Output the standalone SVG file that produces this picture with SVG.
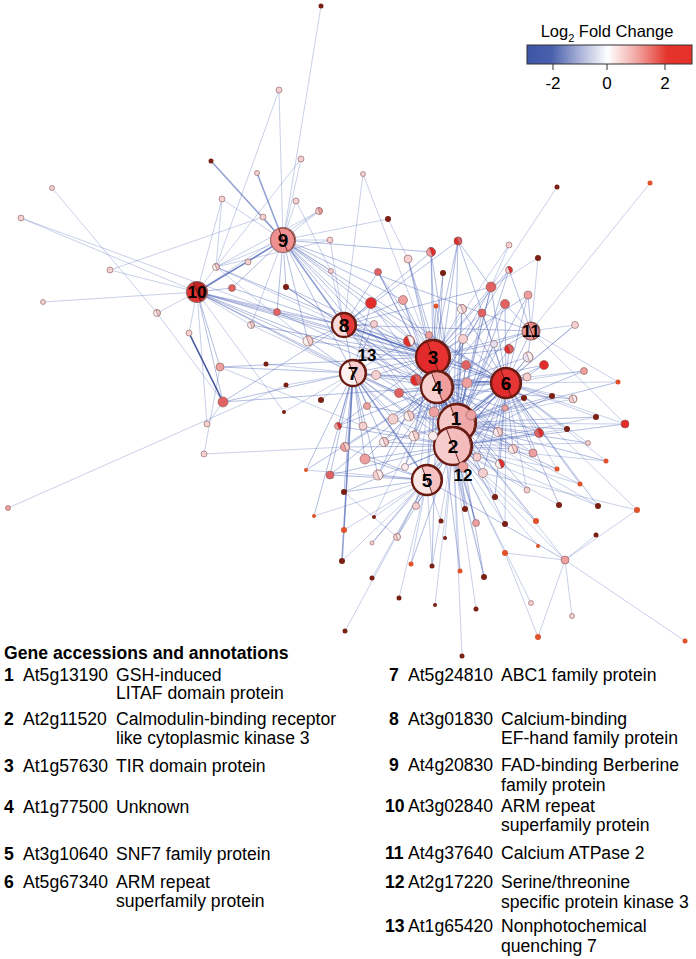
<svg xmlns="http://www.w3.org/2000/svg" xmlns:xlink="http://www.w3.org/1999/xlink" width="696" height="959" viewBox="0 0 696 959">
<style>
text{font-family:"Liberation Sans",Arial,sans-serif;fill:#000}
.eA{fill:none;stroke:#4a62b5;stroke-width:.8;stroke-opacity:.38}
.eB{fill:none;stroke:#4a62b5;stroke-width:1;stroke-opacity:.42}
.eC{fill:none;stroke:#4a62b5;stroke-width:1.6;stroke-opacity:.6}
.eD{fill:none;stroke:#2c3f8e;stroke-width:1.6;stroke-opacity:.9}
.W{fill:#fbeeee}.LP{fill:#f5d0d0}.P{fill:#ee9f9f}.PR{fill:#e06262}.R{fill:#e32b2b}.DR{fill:#7a2014}.O{fill:#e0522a}.LV{fill:#e4e2ee}
#nodes circle,#nodes use{stroke:#8a5a5a;stroke-width:.6}
#nodes .DR,#nodes .O{stroke:none}
#hubs use{stroke:#5a1a10;stroke-width:.9}
#hubs .ring{fill:none;stroke:#6a1c12;stroke-width:2.3}
#hubs .ringT{fill:none;stroke:#9a6a6a;stroke-width:1.2}
.lb{font-weight:bold;font-size:19px;text-anchor:middle}
.lbs{font-weight:bold;font-size:17px;text-anchor:middle}
.tt{font-size:17.6px}
.tb{font-size:17.6px;font-weight:bold}
</style>
<defs>
<path id="hr" vector-effect="non-scaling-stroke" d="M-0.36,-0.93A1,1 0 0 1 0.36,0.93Z"/>
<linearGradient id="lfc" x1="0" x2="1" y1="0" y2="0">
<stop offset="0" stop-color="#3c55a5"/><stop offset=".15" stop-color="#4a60ad"/><stop offset=".32" stop-color="#a9b2d8"/><stop offset=".49" stop-color="#ffffff"/><stop offset=".66" stop-color="#f1a9a5"/><stop offset=".85" stop-color="#e5342c"/><stop offset="1" stop-color="#e5302a"/>
</linearGradient>
</defs>
<rect width="696" height="959" fill="#fff"/>
<g id="connectors">
<path class="eA" d="M321 6L283 240M279 90L283 240M279 90L216 267M301 159L283 240M301 159L216 267M52 188L157 313M222 199L283 240M222 199L197 292M222 199L216 267M296 201L283 240M296 201L331 271M319 211L283 240M319 211L216 267M319 211L197 292M21 218L197 292M21 218L277 312M263 217L283 240M263 217L110 270M330 240L283 240M330 240L216 267M330 240L344 325M248 262L283 240M248 262L197 292M216 267L283 240M216 267L197 292M216 267L344 325M216 267L308 341M110 270L197 292M331 271L283 240M331 271L344 325M43 302L197 292M157 313L197 292M157 313L223 402M251 325L197 292M251 325L283 240M251 325L353 373M207 424L197 292M207 424L223 402M204 454L345 447M204 454L220 367M8 508L286 385M220 367L363 426M189 333L197 292M363 174L344 325M363 174L433 357M388 219L283 240M388 219L408 259M557 187L491 287M650 183L531 331M266 364L353 373M286 385L353 373M321 400L353 373M284 412L197 292M284 412L353 373M306 470L427 480M314 516L427 480M344 530L427 480M342 561L427 480M345 631L427 480M372 578L427 480M399 598L427 480M435 605L453 446M476 609L453 446M462 656L453 446M531 603L453 446M572 616L565 560M538 637L565 560M538 637L505 553M685 641L565 560M596 535L565 560M637 510L565 560M637 510L483 473M637 510L506 383M505 553L565 560M505 553L453 446M606 461L506 383M606 461L453 446M580 484L453 446M580 484L457 423M557 469L453 446M557 469L506 383M618 382L506 383M618 382L531 331M588 443L506 383M588 443L453 446M625 424L506 383M625 424L457 423M625 424L531 331M596 417L506 383M596 417L453 446M575 325L531 331M575 325L506 383M584 371L506 383M584 371L437 387M538 258L491 287M538 258L531 331M509 245L491 287M509 245L433 357M573 399L506 383M573 399L457 423M567 429L506 383M567 429L453 446M598 506L457 423M598 506L453 446M559 505L453 446M536 521L453 446M538 546L453 446M445 538L453 446M441 521L427 480M460 571L453 446M484 577L453 446M484 577L437 387M432 566L427 480M432 566L453 446M411 564L427 480M374 517L427 480M374 517L437 387M372 543L427 480M397 537L427 480M397 537L344 492M527 490L453 446M527 490L506 383M465 509L453 446M465 509L457 423M495 497L453 446M495 497L437 387M476 523L453 446M476 523L433 357M505 524L453 446M505 524L506 383M416 506L427 480M416 506L433 357M565 560L453 446M565 560L457 423"/>
<path class="eB" d="M283 240L197 292M283 240L353 373M283 240L433 357M283 240L437 387M197 292L344 325M197 292L353 373M197 292L433 357M344 325L433 357M344 325L353 373M353 373L433 357M353 373L437 387M457 423L453 446M457 423L433 357M457 423L437 387M453 446L437 387M433 357L437 387M433 357L506 383M437 387L506 383M457 423L506 383M453 446L506 383M427 480L453 446M427 480L437 387M427 480L457 423M427 480L433 357M506 383L531 331M433 357L531 331M531 331L437 387M344 325L437 387M353 373L453 446M353 373L457 423M344 325L457 423M344 325L453 446M283 240L457 423M283 240L453 446M197 292L437 387M197 292L457 423M232 288L197 292M232 288L283 240M277 312L283 240M277 312L197 292M277 312L344 325M277 312L433 357M286 287L283 240M286 287L344 325M286 287L433 357M308 341L283 240M308 341L344 325M308 341L353 373M308 341L197 292M223 402L197 292M223 402L353 373M223 402L344 325M220 367L197 292M220 367L353 373M338 426L353 373M338 426L437 387M338 426L453 446M345 447L353 373M345 447L453 446M345 447L427 480M330 475L353 373M330 475L427 480M330 475L453 446M344 492L427 480M344 492L353 373M306 470L353 373M314 516L353 373M344 530L353 373M458 241L433 357M458 241L491 287M458 241L344 325M458 241L437 387M431 252L344 325M431 252L433 357M431 252L283 240M431 252L437 387M408 259L433 357M408 259L437 387M408 259L457 423M509 270L531 331M509 270L433 357M509 270L453 446M491 287L433 357M491 287L437 387M491 287L506 383M491 287L457 423M491 287L344 325M378 272L344 325M378 272L433 357M378 272L437 387M443 273L433 357M443 273L437 387M371 303L344 325M371 303L433 357M371 303L283 240M371 303L353 373M403 300L433 357M403 300L344 325M403 300L283 240M403 300L437 387M528 295L531 331M528 295L506 383M528 295L433 357M436 306L433 357M436 306L457 423M462 309L433 357M462 309L506 383M462 309L457 423M482 313L433 357M482 313L437 387M482 313L453 446M505 304L506 383M505 304L531 331M505 304L437 387M374 324L344 325M374 324L353 373M374 324L433 357M409 341L433 357M409 341L344 325M409 341L353 373M409 341L457 423M429 335L433 357M429 335L437 387M463 339L433 357M463 339L506 383M463 339L457 423M494 344L531 331M494 344L457 423M509 349L506 383M509 349L433 357M528 357L506 383M528 357L531 331M528 357L453 446M544 365L506 383M544 365L437 387M466 365L433 357M466 365L457 423M466 365L506 383M376 375L353 373M376 375L433 357M376 375L457 423M416 380L433 357M416 380L437 387M416 380L353 373M467 383L437 387M467 383L457 423M467 383L506 383M527 377L506 383M527 377L437 387M524 398L506 383M524 398L457 423M552 396L506 383M552 396L453 446M399 393L353 373M399 393L437 387M399 393L453 446M505 408L506 383M505 408L457 423M367 406L353 373M367 406L457 423M434 412L437 387M434 412L453 446M434 412L433 357M409 416L437 387M409 416L457 423M409 416L353 373M393 419L353 373M393 419L453 446M471 415L457 423M471 415L433 357M363 426L353 373M363 426L453 446M539 433L506 383M539 433L453 446M539 433L457 423M498 432L457 423M498 432L506 383M433 436L457 423M433 436L433 357M414 436L457 423M414 436L437 387M414 436L353 373M384 442L353 373M384 442L453 446M384 442L437 387M513 449L506 383M513 449L453 446M513 449L433 357M533 453L506 383M533 453L457 423M477 457L453 446M477 457L433 357M365 459L353 373M365 459L453 446M365 459L427 480M500 464L453 446M500 464L506 383M500 464L437 387M405 467L453 446M405 467L437 387M378 475L427 480M378 475L353 373M378 475L433 357M483 473L453 446M483 473L506 383M463 467L457 423M463 467L433 357M367 354L353 373M367 354L433 357M367 354L344 325"/>
<path class="eB" d="M371 303L457 423M371 303L506 383M403 300L453 446M378 272L457 423M431 252L457 423M458 241L506 383M458 241L453 446M491 287L453 446M509 270L437 387M528 295L457 423M505 304L453 446M482 313L506 383M462 309L453 446M463 339L453 446M494 344L433 357M494 344L453 446M509 349L457 423M528 357L437 387M544 365L457 423M466 365L453 446M467 383L453 446M527 377L457 423M524 398L453 446M552 396L457 423M505 408L437 387M434 412L506 383M409 416L506 383M393 419L437 387M471 415L506 383M539 433L437 387M498 432L437 387M433 436L506 383M414 436L433 357M384 442L457 423M513 449L437 387M533 453L437 387M477 457L506 383M365 459L437 387M500 464L457 423M405 467L433 357M378 475L437 387M483 473L437 387M463 467L506 383M399 393L506 383M376 375L506 383M416 380L506 383M409 341L506 383M374 324L457 423M429 335L506 383M338 426L433 357M345 447L437 387M330 475L437 387M344 492L453 446M306 470L437 387M223 402L437 387M220 367L433 357M308 341L433 357M277 312L437 387M286 287L437 387M232 288L433 357M251 325L433 357M216 267L433 357M283 240L506 383M197 292L506 383M283 240L531 331M344 325L506 383M344 325L531 331M353 373L506 383M427 480L506 383M565 560L427 480M527 490L437 387M495 497L506 383M476 523L437 387M505 524L437 387M416 506L453 446M465 509L437 387M372 543L453 446M397 537L453 446M411 564L453 446M432 566L437 387M460 571L437 387M484 577L457 423M536 521L457 423M559 505L506 383M598 506L506 383M557 469L457 423M580 484L506 383M606 461L457 423M588 443L457 423M567 429L457 423M596 417L457 423M573 399L437 387M584 371L457 423M575 325L457 423M618 382L457 423M625 424L453 446"/>
<path class="eC" d="M283 240L344 325M211 161L283 240M257 173L283 240M342 561L353 373M197 292L283 240M433 357L453 446M353 373L427 480M437 387L457 423M344 325L433 357M506 383L457 423"/>
<path class="eD" d="M189 333L223 402"/>
</g>
<g id="hubs">
<g id="node1"><circle cx="457" cy="423" r="19" fill="#f6c9c9"/><use xlink:href="#hr" href="#hr" fill="#f0a8a8" transform="translate(457 423) scale(19)"/><circle class="ring" cx="457" cy="423" r="19"/><text class="lb" x="456" y="425">1</text></g>
<g id="node2"><circle cx="453" cy="446" r="19" fill="#f7cccc"/><use xlink:href="#hr" href="#hr" fill="#f4bcbc" transform="translate(453 446) scale(19)"/><circle class="ring" cx="453" cy="446" r="19"/><text class="lb" x="453" y="453">2</text></g>
<g id="node3"><circle cx="433" cy="357" r="17" fill="#e2292b"/><use xlink:href="#hr" href="#hr" fill="#e83232" transform="translate(433 357) scale(17)"/><circle class="ring" cx="433" cy="357" r="17"/><text class="lb" x="433" y="364">3</text></g>
<g id="node4"><circle cx="437" cy="387" r="16" fill="#f7d0d0"/><use xlink:href="#hr" href="#hr" fill="#ef9d9d" transform="translate(437 387) scale(16)"/><circle class="ring" cx="437" cy="387" r="16"/><text class="lb" x="437" y="394">4</text></g>
<g id="node5"><circle cx="427" cy="480" r="15" fill="#fbe6e6"/><use xlink:href="#hr" href="#hr" fill="#f5c1c1" transform="translate(427 480) scale(15)"/><circle class="ring" cx="427" cy="480" r="15"/><text class="lb" x="427" y="487">5</text></g>
<g id="node6"><circle cx="506" cy="383" r="15" fill="#e02c2c"/><use xlink:href="#hr" href="#hr" fill="#e83636" transform="translate(506 383) scale(15)"/><circle class="ring" cx="506" cy="383" r="15"/><text class="lb" x="506" y="390">6</text></g>
<g id="node7"><circle cx="353" cy="373" r="13" fill="#fdf2f2"/><use xlink:href="#hr" href="#hr" fill="#f6cccc" transform="translate(353 373) scale(13)"/><circle class="ring" cx="353" cy="373" r="13"/><text class="lb" x="353" y="380">7</text></g>
<g id="node8"><circle cx="344" cy="325" r="12" fill="#f9dada"/><use xlink:href="#hr" href="#hr" fill="#e53a3a" transform="translate(344 325) scale(12)"/><circle class="ring" cx="344" cy="325" r="12"/><text class="lb" x="344" y="332">8</text></g>
<g id="node9"><circle cx="283" cy="240" r="12.5" fill="#ef9090"/><use xlink:href="#hr" href="#hr" fill="#ef9090" transform="translate(283 240) scale(12.5)"/><circle class="ringT" cx="283" cy="240" r="12.5"/><text class="lb" x="283" y="247">9</text></g>
<g id="node10"><circle cx="197" cy="292" r="10.5" fill="#e53030"/><use xlink:href="#hr" href="#hr" fill="#c42222" transform="translate(197 292) scale(10.5)"/><circle class="ringT" cx="197" cy="292" r="10.5"/><text class="lbs" x="197" y="298">10</text></g>
<g id="node11"><circle cx="531" cy="331" r="9" fill="#e89a9a"/><use xlink:href="#hr" href="#hr" fill="#e48a8a" transform="translate(531 331) scale(9)"/><circle class="ringT" cx="531" cy="331" r="9"/><text class="lbs" x="531" y="337">11</text></g>
</g>
<g id="nodes">
<g id="s1"><circle cx="321" cy="6" r="2.5" class="DR"/></g>
<g id="s2"><circle cx="279" cy="90" r="3" class="LP"/></g>
<g id="s3"><circle cx="301" cy="159" r="3" class="LP"/></g>
<g id="s4"><circle cx="211" cy="161" r="2.5" class="DR"/></g>
<g id="s5"><circle cx="257" cy="173" r="2.5" class="LP"/></g>
<g id="s6"><circle cx="52" cy="188" r="2.5" class="LP"/></g>
<g id="s7"><circle cx="222" cy="199" r="3" class="LP"/></g>
<g id="s8"><circle cx="296" cy="201" r="3" class="LP"/></g>
<g id="s9"><circle cx="319" cy="211" r="3.5" class="LP"/><use xlink:href="#hr" href="#hr" class="P" transform="translate(319 211) scale(3.5)"/></g>
<g id="s10"><circle cx="21" cy="218" r="3" class="LP"/></g>
<g id="s11"><circle cx="263" cy="217" r="3" class="LP"/></g>
<g id="s12"><circle cx="330" cy="240" r="3" class="LP"/></g>
<g id="s13"><circle cx="248" cy="262" r="3" class="LP"/></g>
<g id="s14"><circle cx="216" cy="267" r="3.5" class="W"/><use xlink:href="#hr" href="#hr" class="LP" transform="translate(216 267) scale(3.5)"/></g>
<g id="s15"><circle cx="110" cy="270" r="3" class="LP"/></g>
<g id="s16"><circle cx="331" cy="271" r="2.5" class="LP"/></g>
<g id="s17"><circle cx="286" cy="287" r="3" class="DR"/></g>
<g id="s18"><circle cx="232" cy="288" r="3.5" class="PR"/></g>
<g id="s19"><circle cx="43" cy="302" r="2.5" class="LP"/></g>
<g id="s20"><circle cx="157" cy="313" r="3.5" class="W"/><use xlink:href="#hr" href="#hr" class="LP" transform="translate(157 313) scale(3.5)"/></g>
<g id="s21"><circle cx="277" cy="312" r="3.5" class="PR"/></g>
<g id="s22"><circle cx="251" cy="325" r="3.5" class="W"/><use xlink:href="#hr" href="#hr" class="LP" transform="translate(251 325) scale(3.5)"/></g>
<g id="s23"><circle cx="189" cy="333" r="3" class="LP"/></g>
<g id="s24"><circle cx="308" cy="341" r="5" class="W"/><use xlink:href="#hr" href="#hr" class="LP" transform="translate(308 341) scale(5)"/></g>
<g id="s25"><circle cx="220" cy="367" r="4" class="P"/></g>
<g id="s26"><circle cx="266" cy="364" r="2.5" class="DR"/></g>
<g id="s27"><circle cx="286" cy="385" r="2.5" class="DR"/></g>
<g id="s28"><circle cx="223" cy="402" r="5" class="PR"/></g>
<g id="s29"><circle cx="321" cy="400" r="3" class="DR"/></g>
<g id="s30"><circle cx="284" cy="412" r="2" class="DR"/></g>
<g id="s31"><circle cx="338" cy="426" r="3.5" class="P"/><use xlink:href="#hr" href="#hr" class="R" transform="translate(338 426) scale(3.5)"/></g>
<g id="s32"><circle cx="207" cy="424" r="3" class="LP"/></g>
<g id="s33"><circle cx="345" cy="447" r="4.5" class="P"/><use xlink:href="#hr" href="#hr" class="LP" transform="translate(345 447) scale(4.5)"/></g>
<g id="s34"><circle cx="204" cy="454" r="3" class="LP"/></g>
<g id="s35"><circle cx="306" cy="470" r="2" class="O"/></g>
<g id="s36"><circle cx="330" cy="475" r="4" class="PR"/></g>
<g id="s37"><circle cx="344" cy="492" r="3" class="DR"/></g>
<g id="s38"><circle cx="8" cy="508" r="2.5" class="P"/></g>
<g id="s39"><circle cx="363" cy="174" r="2.5" class="LP"/></g>
<g id="s40"><circle cx="388" cy="219" r="3" class="DR"/></g>
<g id="s41"><circle cx="557" cy="187" r="2.5" class="DR"/></g>
<g id="s42"><circle cx="650" cy="183" r="2.5" class="O"/></g>
<g id="s43"><circle cx="458" cy="241" r="4" class="R"/><use xlink:href="#hr" href="#hr" class="PR" transform="translate(458 241) scale(4)"/></g>
<g id="s44"><circle cx="431" cy="252" r="4.5" class="P"/><use xlink:href="#hr" href="#hr" class="R" transform="translate(431 252) scale(4.5)"/></g>
<g id="s45"><circle cx="408" cy="259" r="4" class="LP"/></g>
<g id="s46"><circle cx="509" cy="245" r="3" class="LP"/></g>
<g id="s47"><circle cx="538" cy="258" r="3" class="DR"/></g>
<g id="s48"><circle cx="378" cy="272" r="3.5" class="PR"/></g>
<g id="s49"><circle cx="443" cy="273" r="3" class="DR"/></g>
<g id="s50"><circle cx="509" cy="270" r="3.5" class="LP"/><use xlink:href="#hr" href="#hr" class="R" transform="translate(509 270) scale(3.5)"/></g>
<g id="s51"><circle cx="491" cy="287" r="5" class="PR"/></g>
<g id="s52"><circle cx="371" cy="303" r="5.5" class="R"/></g>
<g id="s53"><circle cx="403" cy="300" r="4.5" class="P"/></g>
<g id="s54"><circle cx="528" cy="295" r="4" class="P"/></g>
<g id="s55"><circle cx="436" cy="306" r="2.5" class="O"/></g>
<g id="s56"><circle cx="462" cy="309" r="4.5" class="W"/><use xlink:href="#hr" href="#hr" class="LP" transform="translate(462 309) scale(4.5)"/></g>
<g id="s57"><circle cx="482" cy="313" r="4" class="PR"/></g>
<g id="s58"><circle cx="505" cy="304" r="4.5" class="PR"/></g>
<g id="s59"><circle cx="374" cy="324" r="3.5" class="LP"/></g>
<g id="s60"><circle cx="575" cy="325" r="3.5" class="LP"/></g>
<g id="s61"><circle cx="409" cy="341" r="5.5" class="R"/><use xlink:href="#hr" href="#hr" class="W" transform="translate(409 341) scale(5.5)"/></g>
<g id="s62"><circle cx="429" cy="335" r="3.5" class="P"/></g>
<g id="s63"><circle cx="463" cy="339" r="4.5" class="LP"/></g>
<g id="s64"><circle cx="494" cy="344" r="3.5" class="LV"/></g>
<g id="s65"><circle cx="509" cy="349" r="4.5" class="R"/><use xlink:href="#hr" href="#hr" class="PR" transform="translate(509 349) scale(4.5)"/></g>
<g id="s66"><circle cx="528" cy="357" r="5" class="LV"/><use xlink:href="#hr" href="#hr" class="W" transform="translate(528 357) scale(5)"/></g>
<g id="s67"><circle cx="544" cy="365" r="4.5" class="R"/></g>
<g id="s68"><circle cx="466" cy="365" r="4.5" class="PR"/></g>
<g id="s69"><circle cx="376" cy="375" r="4.5" class="LP"/></g>
<g id="s70"><circle cx="416" cy="380" r="5.5" class="R"/><use xlink:href="#hr" href="#hr" class="PR" transform="translate(416 380) scale(5.5)"/></g>
<g id="s71"><circle cx="467" cy="383" r="5" class="P"/></g>
<g id="s72"><circle cx="527" cy="377" r="4" class="LP"/></g>
<g id="s73"><circle cx="584" cy="371" r="3.5" class="P"/></g>
<g id="s74"><circle cx="524" cy="398" r="3" class="DR"/></g>
<g id="s75"><circle cx="552" cy="396" r="3" class="DR"/></g>
<g id="s76"><circle cx="573" cy="399" r="4" class="LP"/><use xlink:href="#hr" href="#hr" class="W" transform="translate(573 399) scale(4)"/></g>
<g id="s77"><circle cx="618" cy="382" r="2.5" class="O"/></g>
<g id="s78"><circle cx="399" cy="393" r="4.5" class="PR"/></g>
<g id="s79"><circle cx="505" cy="408" r="3" class="P"/></g>
<g id="s80"><circle cx="367" cy="406" r="3.5" class="P"/></g>
<g id="s81"><circle cx="434" cy="412" r="5" class="P"/></g>
<g id="s82"><circle cx="409" cy="416" r="5" class="W"/><use xlink:href="#hr" href="#hr" class="LP" transform="translate(409 416) scale(5)"/></g>
<g id="s83"><circle cx="393" cy="419" r="5" class="LP"/></g>
<g id="s84"><circle cx="596" cy="417" r="3" class="DR"/></g>
<g id="s85"><circle cx="471" cy="415" r="5" class="P"/></g>
<g id="s86"><circle cx="363" cy="426" r="4" class="LP"/></g>
<g id="s87"><circle cx="567" cy="429" r="3" class="DR"/></g>
<g id="s88"><circle cx="625" cy="424" r="4" class="R"/></g>
<g id="s89"><circle cx="539" cy="433" r="4.5" class="PR"/><use xlink:href="#hr" href="#hr" class="R" transform="translate(539 433) scale(4.5)"/></g>
<g id="s90"><circle cx="498" cy="432" r="4.5" class="W"/><use xlink:href="#hr" href="#hr" class="LP" transform="translate(498 432) scale(4.5)"/></g>
<g id="s91"><circle cx="433" cy="436" r="4.5" class="W"/></g>
<g id="s92"><circle cx="414" cy="436" r="5" class="W"/><use xlink:href="#hr" href="#hr" class="LP" transform="translate(414 436) scale(5)"/></g>
<g id="s93"><circle cx="384" cy="442" r="4.5" class="W"/><use xlink:href="#hr" href="#hr" class="LP" transform="translate(384 442) scale(4.5)"/></g>
<g id="s94"><circle cx="588" cy="443" r="2.5" class="LP"/></g>
<g id="s95"><circle cx="513" cy="449" r="4.5" class="W"/><use xlink:href="#hr" href="#hr" class="LP" transform="translate(513 449) scale(4.5)"/></g>
<g id="s96"><circle cx="533" cy="453" r="4" class="P"/></g>
<g id="s97"><circle cx="477" cy="457" r="4" class="LP"/></g>
<g id="s98"><circle cx="365" cy="459" r="5" class="P"/></g>
<g id="s99"><circle cx="606" cy="461" r="2.5" class="O"/></g>
<g id="s100"><circle cx="500" cy="464" r="4.5" class="W"/><use xlink:href="#hr" href="#hr" class="R" transform="translate(500 464) scale(4.5)"/></g>
<g id="s101"><circle cx="405" cy="467" r="3.5" class="W"/></g>
<g id="s102"><circle cx="378" cy="475" r="5" class="LP"/><use xlink:href="#hr" href="#hr" class="W" transform="translate(378 475) scale(5)"/></g>
<g id="s103"><circle cx="483" cy="473" r="4.5" class="LP"/></g>
<g id="s104"><circle cx="557" cy="469" r="2.5" class="O"/></g>
<g id="s105"><circle cx="580" cy="484" r="2.5" class="O"/></g>
<g id="s106"><circle cx="527" cy="490" r="3" class="LP"/></g>
<g id="s107"><circle cx="463" cy="467" r="5" class="P"/></g>
<g id="s108"><circle cx="495" cy="497" r="3" class="DR"/></g>
<g id="s109"><circle cx="416" cy="506" r="3.5" class="LP"/></g>
<g id="s110"><circle cx="465" cy="509" r="3" class="DR"/></g>
<g id="s111"><circle cx="559" cy="505" r="3" class="DR"/></g>
<g id="s112"><circle cx="598" cy="506" r="3" class="DR"/></g>
<g id="s113"><circle cx="637" cy="510" r="3" class="O"/></g>
<g id="s114"><circle cx="314" cy="516" r="2" class="O"/></g>
<g id="s115"><circle cx="374" cy="517" r="2" class="DR"/></g>
<g id="s116"><circle cx="441" cy="521" r="2.5" class="DR"/></g>
<g id="s117"><circle cx="536" cy="521" r="3" class="O"/></g>
<g id="s118"><circle cx="476" cy="523" r="3.5" class="P"/></g>
<g id="s119"><circle cx="505" cy="524" r="3" class="DR"/></g>
<g id="s120"><circle cx="344" cy="530" r="3" class="O"/></g>
<g id="s121"><circle cx="445" cy="538" r="2" class="DR"/></g>
<g id="s122"><circle cx="397" cy="537" r="3.5" class="LP"/><use xlink:href="#hr" href="#hr" class="W" transform="translate(397 537) scale(3.5)"/></g>
<g id="s123"><circle cx="596" cy="535" r="2.5" class="DR"/></g>
<g id="s124"><circle cx="538" cy="546" r="2" class="O"/></g>
<g id="s125"><circle cx="372" cy="543" r="2" class="LP"/></g>
<g id="s126"><circle cx="505" cy="553" r="3" class="O"/></g>
<g id="s127"><circle cx="565" cy="560" r="4" class="P"/></g>
<g id="s128"><circle cx="342" cy="561" r="3" class="DR"/></g>
<g id="s129"><circle cx="411" cy="564" r="2.5" class="O"/></g>
<g id="s130"><circle cx="432" cy="566" r="2.5" class="DR"/></g>
<g id="s131"><circle cx="460" cy="571" r="2.5" class="O"/></g>
<g id="s132"><circle cx="484" cy="577" r="3" class="DR"/></g>
<g id="s133"><circle cx="372" cy="578" r="2.5" class="DR"/></g>
<g id="s134"><circle cx="399" cy="598" r="2.5" class="DR"/></g>
<g id="s135"><circle cx="435" cy="605" r="2" class="DR"/></g>
<g id="s136"><circle cx="476" cy="609" r="2.5" class="DR"/></g>
<g id="s137"><circle cx="531" cy="603" r="2.5" class="LP"/></g>
<g id="s138"><circle cx="572" cy="616" r="2.5" class="LP"/></g>
<g id="s139"><circle cx="345" cy="631" r="2.5" class="DR"/></g>
<g id="s140"><circle cx="538" cy="637" r="3" class="O"/></g>
<g id="s141"><circle cx="685" cy="641" r="2.5" class="O"/></g>
<g id="s142"><circle cx="462" cy="656" r="2.5" class="DR"/></g>
<g id="s144"><circle cx="367" cy="354" r="4" class="LV"/></g>
</g>
<g id="labels">
<text class="lbs" x="367" y="361">13</text>
<text class="lbs" x="463" y="481">12</text>
</g>
<g id="legend">
<text x="607" y="37" text-anchor="middle" font-size="16.5">Log<tspan font-size="11" dy="5">2</tspan><tspan dy="-5"> Fold Change</tspan></text>
<rect x="527" y="45" width="165" height="19" fill="url(#lfc)" stroke="#333" stroke-width="1"/>
<path d="M553 64V70M607 64V70M665 64V70" stroke="#333" stroke-width="1"/>
<text x="553" y="89" text-anchor="middle" font-size="17">-2</text>
<text x="607" y="89" text-anchor="middle" font-size="17">0</text>
<text x="665" y="89" text-anchor="middle" font-size="17">2</text>
</g>
<g id="table">
<text class="tb" x="4" y="659">Gene accessions and annotations</text>
<text class="tb" x="4" y="681">1</text><text class="tt" x="23" y="681">At5g13190</text><text class="tt" x="116" y="681">GSH-induced</text><text class="tt" x="116" y="699">LITAF domain protein</text>
<text class="tb" x="4" y="725">2</text><text class="tt" x="23" y="725">At2g11520</text><text class="tt" x="116" y="725">Calmodulin-binding receptor</text><text class="tt" x="116" y="744">like cytoplasmic kinase 3</text>
<text class="tb" x="4" y="772">3</text><text class="tt" x="23" y="772">At1g57630</text><text class="tt" x="116" y="772">TIR domain protein</text>
<text class="tb" x="4" y="813">4</text><text class="tt" x="23" y="813">At1g77500</text><text class="tt" x="116" y="813">Unknown</text>
<text class="tb" x="4" y="860">5</text><text class="tt" x="23" y="860">At3g10640</text><text class="tt" x="116" y="860">SNF7 family protein</text>
<text class="tb" x="4" y="888">6</text><text class="tt" x="23" y="888">At5g67340</text><text class="tt" x="116" y="888">ARM repeat</text><text class="tt" x="116" y="907">superfamily protein</text>
<text class="tb" x="389" y="681">7</text><text class="tt" x="408" y="681">At5g24810</text><text class="tt" x="501" y="681">ABC1 family protein</text>
<text class="tb" x="389" y="725">8</text><text class="tt" x="408" y="725">At3g01830</text><text class="tt" x="501" y="725">Calcium-binding</text><text class="tt" x="501" y="744">EF-hand family protein</text>
<text class="tb" x="389" y="771">9</text><text class="tt" x="408" y="771">At4g20830</text><text class="tt" x="501" y="771">FAD-binding Berberine</text><text class="tt" x="501" y="791">family protein</text>
<text class="tb" x="385" y="812">10</text><text class="tt" x="408" y="812">At3g02840</text><text class="tt" x="501" y="812">ARM repeat</text><text class="tt" x="501" y="831">superfamily protein</text>
<text class="tb" x="385" y="859">11</text><text class="tt" x="408" y="859">At4g37640</text><text class="tt" x="501" y="859">Calcium ATPase 2</text>
<text class="tb" x="385" y="888">12</text><text class="tt" x="408" y="888">At2g17220</text><text class="tt" x="501" y="888">Serine/threonine</text><text class="tt" x="501" y="908">specific protein kinase 3</text>
<text class="tb" x="385" y="932">13</text><text class="tt" x="408" y="932">At1g65420</text><text class="tt" x="501" y="932">Nonphotochemical</text><text class="tt" x="501" y="952">quenching 7</text>
</g>
</svg>
